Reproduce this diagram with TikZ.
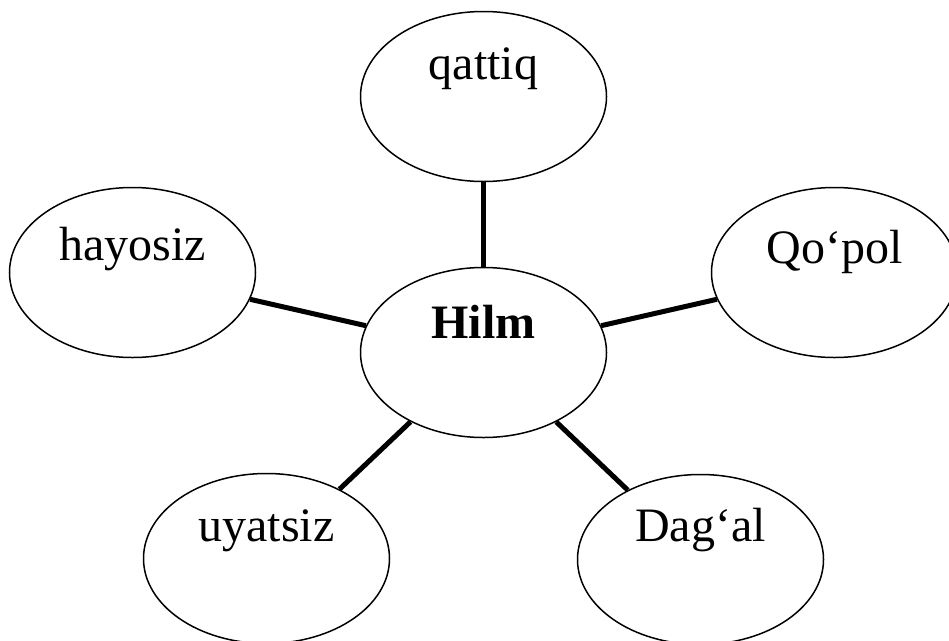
\documentclass[tikz,border=0pt]{standalone}
\usepackage{fontspec}
\setmainfont{Liberation Serif}
\usetikzlibrary{shapes.geometric}
\begin{document}
\begin{tikzpicture}[x=1pt,y=-1pt,
  bubble/.style={ellipse, draw, line width=1.5pt, minimum width=246pt, minimum height=170pt, inner sep=0pt},
  word/.style={anchor=base, font=\fontsize{48}{56}\selectfont, inner sep=0pt},
  link/.style={line width=5pt}]
\useasboundingbox (0,0) rectangle (949,640);
\begin{scope}
\clip (0,0) rectangle (949,640);
\node[bubble] (hilm) at (483.5,352.5) {};
\node[bubble] (qattiq) at (483.5,96.5) {};
\node[bubble] (hayosiz) at (132.5,272.5) {};
\node[bubble] (qopol) at (834.5,272.5) {};
\node[bubble] (uyatsiz) at (266.5,558.5) {};
\node[bubble] (dagal) at (700.5,559.5) {};
\draw[link] (hilm) -- (qattiq);
\draw[link] (hilm) -- (hayosiz);
\draw[link] (hilm) -- (qopol);
\draw[link] (hilm) -- (uyatsiz);
\draw[link] (hilm) -- (dagal);
\node[word] (hilmt) at (483.5,338) {\textbf{Hilm}};
\node[word] (qattiqt) at (483.5,79) {qattiq};
\node[word] (hayosizt) at (132.5,260) {hayosiz};
\node[word] (qopolt) at (834.5,263) {Qo‘pol};
\node[word] (uyatsizt) at (266.5,541) {uyatsiz};
\node[word] (dagalt) at (700.5,541) {Dag‘al};
\end{scope}
\end{tikzpicture}
\end{document}
